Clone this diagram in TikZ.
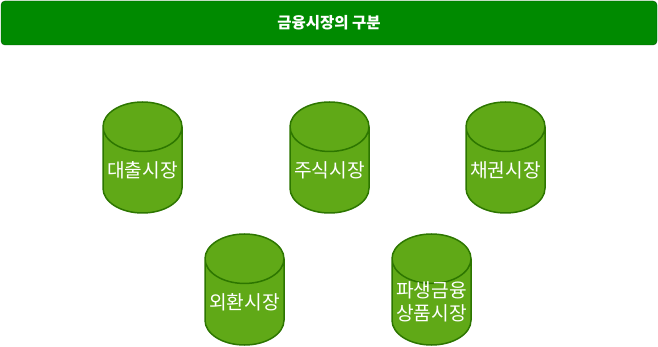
\documentclass[tikz,border=0pt]{standalone}
\usepackage{fontspec}
\setmainfont{Noto Sans CJK KR}
\usetikzlibrary{shapes.geometric}
\definecolor{titlefill}{HTML}{008A00}
\definecolor{titleline}{HTML}{005700}
\definecolor{marketfill}{HTML}{60A917}
\definecolor{marketline}{HTML}{2D7600}

\begin{document}
\begin{tikzpicture}[
  x=1pt, y=-1pt,
  banner/.style={draw=titleline, fill=titlefill, rounded corners=4pt, minimum width=656pt, minimum height=44pt, text=white, font=\bfseries\fontsize{15.5}{18}\selectfont},
  market/.style={draw=marketline, line width=1.5pt, cylinder, shape border rotate=90, aspect=0.7, anchor=shape center, fill=marketfill, minimum width=79pt, minimum height=111pt, text=white, align=center, inner sep=0pt, font=\fontsize{19.2}{23}\selectfont}
]
\useasboundingbox (0,0) rectangle (658,347);
\node[banner] (title) at (329,23) {금융시장의 구분};

\node[market] (loan) at (142.5,157.5) {대출시장};
\node[market] (stock) at (329.5,157.5) {주식시장};
\node[market] (bond) at (505.5,157.5) {채권시장};
\node[market] (forex) at (244.5,289.5) {외환시장};
\node[market, inner ysep=-6pt] (deriv) at (431.5,289.5) {파생금융\\상품시장};
\end{tikzpicture}
\end{document}
